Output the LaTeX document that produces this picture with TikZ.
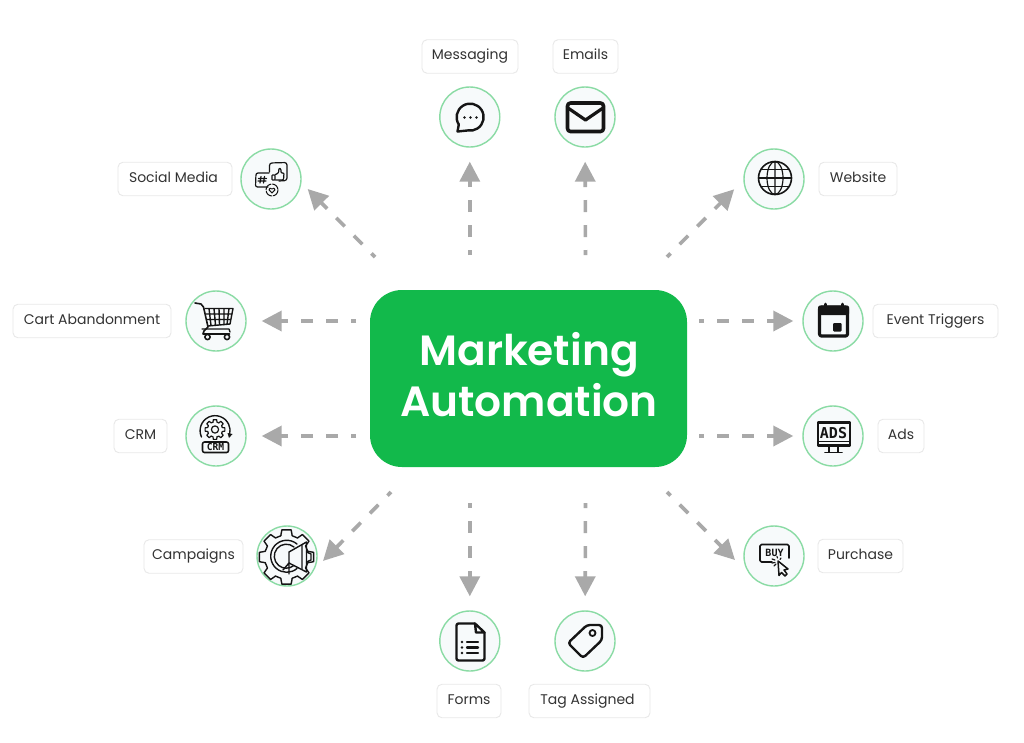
\documentclass[tikz,border=0pt]{standalone}
\usepackage{fontspec}
\setmainfont{Poppins}
\newfontfamily\bigfont{Poppins SemiBold}
\newfontfamily\iconfont{DejaVu Sans Mono}
\usetikzlibrary{arrows.meta}
\definecolor{brandgreen}{HTML}{12B94B}
\definecolor{ringgreen}{HTML}{8ADBA4}
\definecolor{ringfill}{HTML}{F7FAFB}
\definecolor{flowgrey}{HTML}{A9A9A9}
\definecolor{labelborder}{HTML}{E8E8E8}
\definecolor{labeltext}{HTML}{333333}
\definecolor{ink}{HTML}{151515}
\tikzset{
  x=1pt,y=-1pt,
  ring/.style={circle,draw=ringgreen,fill=ringfill,line width=1.4pt,minimum size=60pt,inner sep=0pt},
  tagbox/.style={rectangle,rounded corners=5pt,draw=labelborder,fill=white,line width=0.9pt,minimum height=33.5pt,inner sep=0pt,text=labeltext,text height=11pt,text depth=4.5pt,font=\fontsize{14}{16}\selectfont},
  flow/.style={draw=flowgrey,line width=3.6pt,dash pattern=on 12pt off 13pt,dash phase=7pt,-{Triangle[length=20pt,width=20pt,color=flowgrey]}},
  icon/.style={draw=ink,line width=2.4pt,line cap=round,line join=round},
  thin icon/.style={draw=ink,line width=1.2pt,line cap=round,line join=round},
}
\newcommand{\gearshape}[6]{% cx cy rout rin teeth style
  \pgfmathsetmacro{\gstep}{360/#5}
  \pgfmathsetmacro{\gq}{\gstep/4.6}
  \pgfmathsetmacro{\gp}{\gstep/3}
  \foreach \gi in {1,...,#5}{
    \pgfmathsetmacro{\ga}{\gi*\gstep}
    \draw[#6] ({#1+#4*cos(\ga-\gp)},{#2+#4*sin(\ga-\gp)})
      -- ({#1+#3*cos(\ga-\gq)},{#2+#3*sin(\ga-\gq)})
      -- ({#1+#3*cos(\ga+\gq)},{#2+#3*sin(\ga+\gq)})
      -- ({#1+#4*cos(\ga+\gp)},{#2+#4*sin(\ga+\gp)})
      -- ({#1+#4*cos(\ga+\gstep-\gp)},{#2+#4*sin(\ga+\gstep-\gp)});
  }
}
\begin{document}
\begin{tikzpicture}
\useasboundingbox (0,0) rectangle (1024,742);
\fill[white] (0,0) rectangle (1024,742);

% centre
\node[rectangle,rounded corners=32pt,fill=brandgreen,minimum width=317pt,minimum height=177pt,inner sep=0pt] (hub) at (528.5,378.5) {};
\node[text=white,font=\bigfont\fontsize{42.3}{51.5}\selectfont,align=center,inner sep=0pt] (hubtext) at (529,374.5) {Marketing\\Automation};

% rings
\node[ring] (msg) at (469.8,117) {};
\node[ring] (eml) at (585,117) {};
\node[ring] (soc) at (271,179) {};
\node[ring] (web) at (774,179) {};
\node[ring] (crt) at (216,321) {};
\node[ring] (crm) at (216,436) {};
\node[ring] (cam) at (287,556) {};
\node[ring] (evt) at (833,321) {};
\node[ring] (ads) at (833,436) {};
\node[ring] (pur) at (774,556) {};
\node[ring] (frm) at (469.8,641) {};
\node[ring] (tag) at (585,641) {};

% labels
\node[tagbox,minimum width=96pt] (lmsg) at (470,56.5) {Messaging};
\node[tagbox,minimum width=65pt] (leml) at (585.5,56.5) {Emails};
\node[tagbox,minimum width=114pt] (lsoc) at (175,179) {\hspace{-3pt}Social Media};
\node[tagbox,minimum width=78pt] (lweb) at (858,179) {Website};
\node[tagbox,minimum width=158pt] (lcrt) at (92,321) {Cart Abandonment};
\node[tagbox,minimum width=53pt] (lcrm) at (140.5,436) {CRM};
\node[tagbox,minimum width=99pt] (lcam) at (193.5,556.5) {Campaigns};
\node[tagbox,minimum width=125pt] (levt) at (935.5,321) {Event Triggers};
\node[tagbox,minimum width=46pt] (lads) at (901,436) {Ads};
\node[tagbox,minimum width=85pt] (lpur) at (860.5,556) {Purchase};
\node[tagbox,minimum width=64pt] (lfrm) at (469,701) {Forms};
\node[tagbox,minimum width=121pt] (ltag) at (589.5,701) {\hspace{-4pt}Tag Assigned};

% connector free ends
\coordinate (smsg) at (469.8,255);
\coordinate (seml) at (585.5,255);
\coordinate (ssoc) at (375,257);
\coordinate (sweb) at (667,257);
\coordinate (scrt) at (356,321);
\coordinate (scrm) at (356,436);
\coordinate (scam) at (391,492);
\coordinate (sevt) at (699,321);
\coordinate (sads) at (699,436);
\coordinate (spur) at (667,492);
\coordinate (tpur) at (735,560);
\coordinate (sfrm) at (469.8,503);
\coordinate (stag) at (585.5,503);

\draw[flow,shorten >=14pt] (smsg) -- (msg);
\draw[flow,shorten >=14pt] (seml) -- (eml);
\draw[flow,shorten >=8.8pt] (ssoc) -- (soc.-7);
\draw[flow,shorten >=13pt] (sweb) -- (web.-178);
\draw[flow,shorten >=15pt] (scrt) -- (crt);
\draw[flow,shorten >=15pt] (scrm) -- (crm);
\draw[flow,shorten >=12pt] (scam) -- (cam.-26);
\draw[flow,shorten >=9pt] (sevt) -- (evt);
\draw[flow,shorten >=9pt] (sads) -- (ads);
\draw[flow] (spur) -- (tpur);
\draw[flow,shorten >=14pt] (sfrm) -- (frm);
\draw[flow,shorten >=14pt] (stag) -- (tag);

% messaging icon
\draw[icon] (457.5,131.5) -- (458.8,124.5) arc[start angle=147,end angle=460,radius=13.5] -- cycle;
\fill[ink] (464.5,117.5) circle (1.4) (470.5,117.5) circle (1.4) (476.5,117.5) circle (1.4);

% email icon
\draw[icon,line width=3.6pt,rounded corners=3pt] (567.5,103) rectangle (603.5,131.5);
\draw[icon,line width=3.2pt] (568,108) -- (585.5,120) -- (603,108);

% social icon
\draw[thin icon,rounded corners=2pt] (269,173) -- (256,173) -- (255.5,187) -- (268,187);
\draw[thin icon,rounded corners=2.5pt] (269.5,172) -- (269.5,163) -- (287,162.5) -- (287,180.5) -- (279,181);
\draw[thin icon,rounded corners=0.6pt] (272,175) rectangle (275,180);
\draw[thin icon,rounded corners=1pt] (275.5,174.5) -- (278.5,173) -- (279,168) -- (281,169) -- (281,173) -- (284,173) -- (283.5,180) -- (275.5,180);
\draw[thin icon] (261,176.5) -- (260,183) (264.5,176.5) -- (263.5,183) (258.5,178.5) -- (266.5,178.5) (258,181) -- (266,181);
\draw[thin icon,line width=1pt,dash pattern=on 8pt off 1.5pt] (272,190) circle (6);
\draw[thin icon,line width=1pt] (272,193) -- (269,189.8) -- (270,188.2) -- (272,189) -- (274,188.2) -- (275,189.8) -- cycle;

% website icon
\draw[thin icon,line width=1.6pt] (775,178) circle (16.5);
\draw[thin icon] (775,178) ellipse (8 and 16.5) (775,161.5) -- (775,194.5);
\draw[thin icon] (758.5,178) -- (791.5,178) (761,169.5) -- (789,169.5) (761,186.5) -- (789,186.5);

% cart icon
\draw[icon,line width=1.6pt] (195,303) -- (201,304) -- (203.5,307) -- (208,327) -- (204,331) -- (203,334) -- (229.5,334);
\draw[thin icon,line width=1.4pt] (205,308.5) -- (233,308.5) -- (230,324) -- (208,326) (209,308.5) -- (211,325.5) (214,308.5) -- (215.5,325) (219,308.5) -- (219.5,325) (224,308.5) -- (224,325) (229,308.5) -- (227,324.5) (206,314) -- (232,314) (207,319.5) -- (231,319.5);
\draw[thin icon,line width=1.4pt] (202,329) -- (229,329) (229,329) -- (230,332);
\draw[thin icon,line width=1.6pt] (207.5,337) circle (2.6) (227,337) circle (2.6);

% crm icon
\gearshape{215}{429.5}{10}{7.6}{8}{thin icon}
\draw[thin icon] (215,429.5) circle (3.6);
\draw[thin icon,line width=1.4pt] (201.5,437) arc[start angle=155,end angle=375,radius=15];
\fill[ink] (227.5,433) -- (232.5,434) -- (229,438) -- cycle;
\draw[thin icon,line width=1.6pt,rounded corners=2pt,fill=ringfill] (202.5,442) rectangle (228.5,452.5);
\node[font=\iconfont\bfseries\fontsize{9.6}{10}\selectfont,text=ink,inner sep=0pt] (crmword) at (215.5,447.2) {CRM};

% campaigns icon
\gearshape{286.5}{557}{27.5}{22}{8}{thin icon,line width=1.4pt}
\draw[thin icon,line width=1.4pt] (297,544) arc[start angle=-50,end angle=-310,radius=16];
\draw[thin icon,line width=1.4pt] (294,547) arc[start angle=-50,end angle=-310,radius=12];
\draw[thin icon,line width=1.4pt] (289,552) -- (306.5,542) -- (306.5,572) -- (289,563) -- cycle;
\draw[thin icon,line width=1.4pt] (289,563) -- (283,570) (289,563) -- (289,574) (306.5,552) -- (311,554) -- (311,560) -- (306.5,562) (302,545) -- (302,569);

% event icon
\draw[icon,line width=3.2pt,rounded corners=2pt] (819.5,307) rectangle (847.5,336);
\fill[ink,rounded corners=1.5pt] (818,305.5) rectangle (849,315);
\draw[icon,line width=3pt] (825,304) -- (825,307) (842,304) -- (842,307);
\fill[ink,rounded corners=1pt] (833,323) rectangle (841.5,331.5);

% ads icon
\draw[icon,line width=2.2pt] (818,422.5) rectangle (850,445.5);
\draw[icon,line width=1.8pt] (818,441.5) -- (850,441.5);
\node[font=\iconfont\bfseries\fontsize{15}{15}\selectfont,text=ink,inner sep=0pt] (adsword) at (833.5,433) {ADS};
\draw[icon,line width=1.8pt] (829,446) -- (829,452) (838,446) -- (838,452) (825,452.5) -- (842,452.5);

% purchase icon
\draw[thin icon,line width=1.6pt,rounded corners=1.5pt] (772,562) -- (760,562) -- (760,544.5) -- (789,544.5) -- (789,558);
\node[font=\iconfont\bfseries\fontsize{10}{10}\selectfont,text=ink,inner sep=0pt] (buyword) at (774.5,552.5) {BUY};
\draw[thin icon,fill=ringfill,line width=1.5pt] (778,561) -- (788,569) -- (784,570) -- (787,574) -- (785,576) -- (781.5,572.5) -- (779,575.5) -- cycle;
\draw[thin icon] (772,559) -- (775,560) (772,563) -- (775,562.5) (777,556.5) -- (777.5,558) (781,558) -- (780,559.5) (774,566) -- (776,564);

% forms icon
\draw[icon,rounded corners=2pt] (475,623.5) -- (456.5,623.5) -- (456.5,660.5) -- (484.5,660.5) -- (484.5,632.5);
\draw[icon,line join=round] (475,623.5) -- (484.5,632.5) -- (476,632.5) -- cycle;
\draw[icon] (467,642) -- (478,642) (467,647.5) -- (478,647.5) (467,653) -- (478,653);
\fill[ink] (462,642) circle (1.3) (462,647.5) circle (1.3) (462,653) circle (1.3);

% tag icon
\draw[icon,rounded corners=3pt] (587,625) -- (602,625) -- (602,640) -- (583,658) -- (568,643) -- cycle;
\draw[thin icon,line width=1.8pt] (592.5,633) circle (3);
\end{tikzpicture}
\end{document}
